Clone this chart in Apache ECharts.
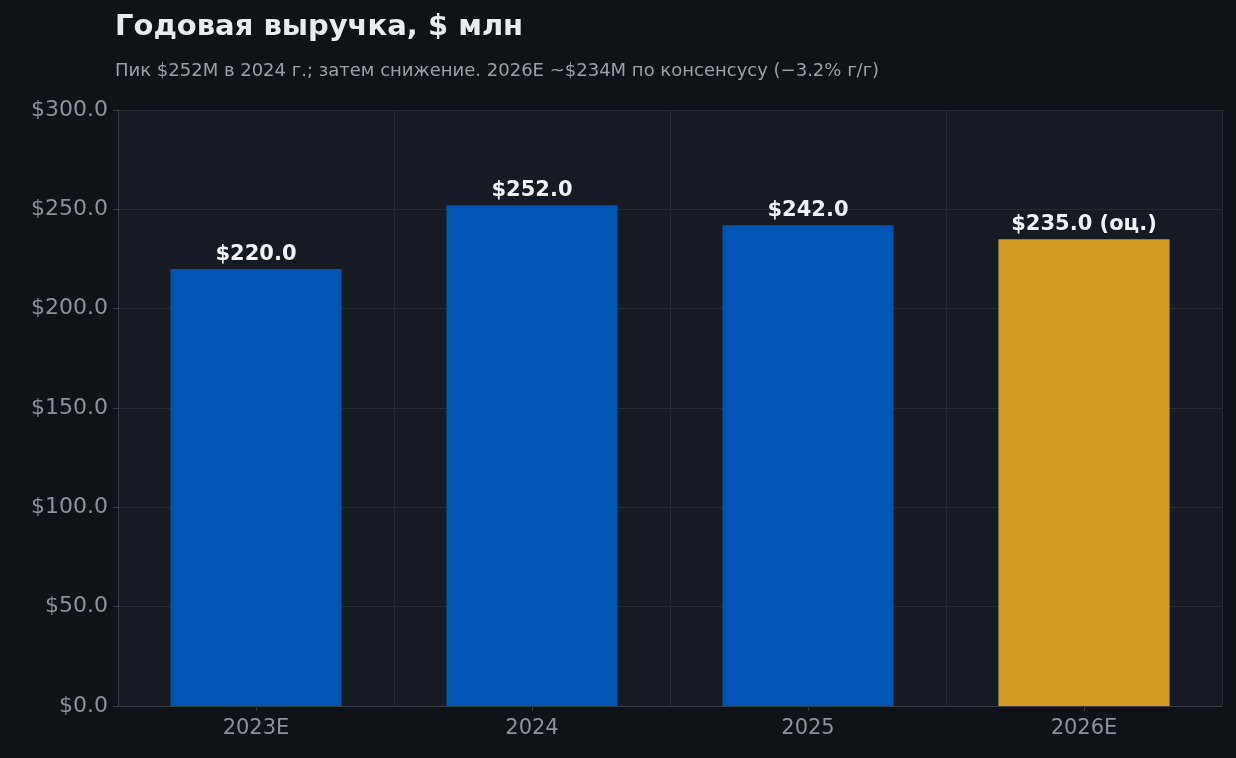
<!DOCTYPE html>
<html><head><meta charset="utf-8">
<script src="https://cdn.jsdelivr.net/npm/echarts@6/dist/echarts.min.js"></script>
<style>html,body{margin:0;background:#0f1317;}#c{width:1236px;height:758px;}</style>
</head><body><div id="c"></div>
<script>
const categories = ['2023E','2024','2025','2026E'];
const values = [220, 252, 242, 235];
const isEstimate = [false, false, false, true];
const chart = echarts.init(document.getElementById('c'));
chart.setOption({
  backgroundColor:'#0f1317',
  title:{text:'Годовая выручка, $ млн',subtext:'Пик $252M в 2024 г.; затем снижение. 2026E ~$234M по консенсусу (−3.2% г/г)',
    left:110,top:8,itemGap:20,
    textStyle:{color:'#e8ebef',fontSize:29,fontWeight:'bold',fontFamily:'DejaVu Sans'},
    subtextStyle:{color:'#9aa0a8',fontSize:18,fontFamily:'DejaVu Sans'}},
  grid:{left:118,right:14,top:110,bottom:52,show:true,backgroundColor:'#161a22',borderWidth:0},
  xAxis:{type:'category',data:categories,
    axisLine:{lineStyle:{color:'#3a3f47'}},axisTick:{show:true,alignWithLabel:true,lineStyle:{color:'#3a3f47'}},
    axisLabel:{color:'#8b929b',fontSize:21,margin:12,fontFamily:'DejaVu Sans'},
    splitLine:{show:true,interval:0,lineStyle:{color:'#262b33'}}},
  yAxis:{type:'value',min:0,max:300,interval:50,
    axisLine:{show:true,lineStyle:{color:'#3a3f47'}},axisTick:{show:true,lineStyle:{color:'#3a3f47'}},
    axisLabel:{color:'#8b929b',fontSize:22,margin:10,fontFamily:'DejaVu Sans',formatter:v=>'$'+v.toFixed(1)},
    splitLine:{lineStyle:{color:'#262b33'}}},
  series:[{type:'bar',barWidth:'62%',
    data:values.map((v,i)=>({value:v,itemStyle:{color:isEstimate[i]?'#d39a24':'#0055b3'}})),
    label:{show:true,position:'top',distance:4,color:'#f0f2f5',fontSize:21,fontWeight:'bold',fontFamily:'DejaVu Sans',
      formatter:p=>'$'+p.value.toFixed(1)+(isEstimate[p.dataIndex]?' (оц.)':'')}}]
});
</script></body></html>
